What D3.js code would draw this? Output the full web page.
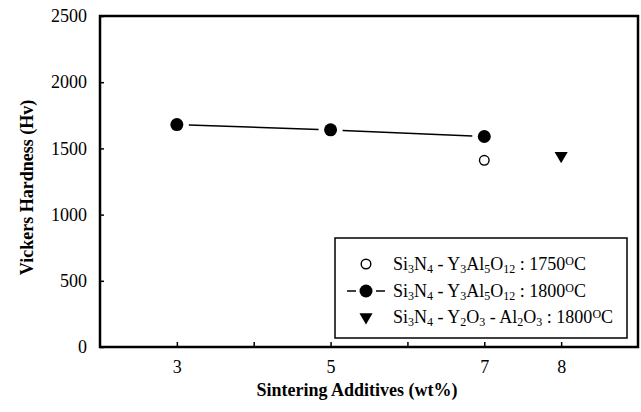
<!DOCTYPE html>
<html>
<head>
<meta charset="utf-8">
<script src="https://cdn.jsdelivr.net/npm/d3@7"></script>
<style>
  html, body { margin: 0; padding: 0; background: #fff; }
  svg { display: block; }
</style>
</head>
<body>
<svg id="chart" width="641" height="412"></svg>
<script>
// Vickers hardness against sintering additive content
const additiveTicks = [3, 4, 5, 6, 7, 8];
const additiveLabels = [3, 5, 7, 8];
const hardnessTicks = [0, 500, 1000, 1500, 2000, 2500];

// Si3N4 - Y3Al5O12 sintered at 1800 °C
const yagX1800 = [3, 5, 7];
const yagHv1800 = [1680, 1640, 1590];
// Si3N4 - Y3Al5O12 sintered at 1750 °C
const yagX1750 = [7];
const yagHv1750 = [1410];
// Si3N4 - Y2O3 - Al2O3 sintered at 1800 °C
const oxX1800 = [8];
const oxHv1800 = [1445];

const FONT = '"Liberation Serif", "Times New Roman", serif';
const svg = d3.select("#chart").style("font-family", FONT);
const plotL = 100, plotR = 638, plotT = 16, plotB = 347;

const x = d3.scaleLinear().domain([2, 9]).range([plotL, plotR]);
const y = d3.scaleLinear().domain([0, 2500]).range([plotB, plotT]);

// bottom axis: inward ticks, labels only on some positions
const xAxis = d3.axisBottom(x)
  .tickValues(additiveTicks)
  .tickSizeInner(-5).tickSizeOuter(0)
  .tickFormat(d => additiveLabels.includes(d) ? d : "");
const gx = svg.append("g").attr("transform", `translate(0,${plotB})`).call(xAxis)
  .attr("font-family", FONT).attr("font-size", 18);
gx.select(".domain").remove();
gx.selectAll(".tick line").attr("stroke", "#000").attr("stroke-width", 1.5);
gx.selectAll(".tick text").attr("y", 13).attr("dy", "0.71em").attr("fill", "#000");

// left axis
const yAxis = d3.axisLeft(y)
  .tickValues(hardnessTicks)
  .tickSizeInner(-4).tickSizeOuter(0)
  .tickFormat(d3.format("d"));
const gy = svg.append("g").attr("transform", `translate(${plotL},0)`).call(yAxis)
  .attr("font-family", FONT).attr("font-size", 18);
gy.select(".domain").remove();
gy.selectAll(".tick line").attr("stroke", "#000").attr("stroke-width", 1.5);
gy.selectAll(".tick text").attr("x", -13).attr("fill", "#000");

// plot frame
svg.append("rect")
  .attr("x", plotL).attr("y", plotT)
  .attr("width", plotR - plotL).attr("height", plotB - plotT)
  .attr("fill", "none").attr("stroke", "#000").attr("stroke-width", 2.5);

// axis titles
svg.append("text")
  .attr("transform", `translate(33,${(plotT + plotB) / 2 + 6}) rotate(-90)`)
  .attr("text-anchor", "middle")
  .attr("font-family", FONT).attr("font-size", 18).attr("font-weight", "bold")
  .text("Vickers Hardness (Hv)");
svg.append("text")
  .attr("x", 357).attr("y", 396)
  .attr("text-anchor", "middle")
  .attr("font-family", FONT).attr("font-size", 18).attr("font-weight", "bold")
  .text("Sintering Additives (wt%)");

// connecting line with gaps around the markers
const pts1800 = yagX1800.map((d, i) => [x(d), y(yagHv1800[i])]);
const gap = 12;
const segs = d3.pairs(pts1800).map(([a, b]) => {
  const dx = b[0] - a[0], dy = b[1] - a[1], len = Math.hypot(dx, dy);
  const ux = dx / len, uy = dy / len;
  return [[a[0] + ux * gap, a[1] + uy * gap], [b[0] - ux * gap, b[1] - uy * gap]];
});
svg.append("g").selectAll("line").data(segs).join("line")
  .attr("x1", d => d[0][0]).attr("y1", d => d[0][1])
  .attr("x2", d => d[1][0]).attr("y2", d => d[1][1])
  .attr("stroke", "#000").attr("stroke-width", 1.5);

// markers
svg.append("g").selectAll("circle").data(yagX1800).join("circle")
  .attr("cx", d => x(d)).attr("cy", (d, i) => y(yagHv1800[i]))
  .attr("r", 6.5).attr("fill", "#000");
svg.append("g").selectAll("circle").data(yagX1750).join("circle")
  .attr("cx", d => x(d)).attr("cy", (d, i) => y(yagHv1750[i]))
  .attr("r", 4.8).attr("fill", "#fff").attr("stroke", "#000").attr("stroke-width", 1.4);
const tri = d3.symbol().type(d3.symbolTriangle).size(75);
svg.append("g").selectAll("path").data(oxX1800).join("path")
  .attr("d", tri)
  .attr("transform", (d, i) => `translate(${x(d)},${y(oxHv1800[i])}) rotate(180)`)
  .attr("fill", "#000");

// legend
const lg = svg.append("g");
lg.append("rect").attr("x", 335).attr("y", 238).attr("width", 292).attr("height", 100)
  .attr("fill", "#fff").attr("stroke", "#000").attr("stroke-width", 1.5);

const legendRows = [
  { sym: "open", parts: [["Si"], ["3", "sub"], ["N"], ["4", "sub"], [" - Y"], ["3", "sub"], ["Al"], ["5", "sub"], ["O"], ["12", "sub"], [" : 1750"], ["O", "sup"], ["C"]] },
  { sym: "filled", parts: [["Si"], ["3", "sub"], ["N"], ["4", "sub"], [" - Y"], ["3", "sub"], ["Al"], ["5", "sub"], ["O"], ["12", "sub"], [" : 1800"], ["O", "sup"], ["C"]] },
  { sym: "tri", parts: [["Si"], ["3", "sub"], ["N"], ["4", "sub"], [" - Y"], ["2", "sub"], ["O"], ["3", "sub"], [" - Al"], ["2", "sub"], ["O"], ["3", "sub"], [" : 1800"], ["O", "sup"], ["C"]] }
];
const rowY = [264, 291, 317];
const symX = 366, textX = 393;

legendRows.forEach((row, i) => {
  const cy = rowY[i];
  if (row.sym === "open") {
    lg.append("circle").attr("cx", symX).attr("cy", cy).attr("r", 4.8)
      .attr("fill", "#fff").attr("stroke", "#000").attr("stroke-width", 1.4);
  } else if (row.sym === "filled") {
    lg.append("line").attr("x1", symX - 19).attr("x2", symX - 10).attr("y1", cy).attr("y2", cy)
      .attr("stroke", "#000").attr("stroke-width", 1.5);
    lg.append("line").attr("x1", symX + 10).attr("x2", symX + 19).attr("y1", cy).attr("y2", cy)
      .attr("stroke", "#000").attr("stroke-width", 1.5);
    lg.append("circle").attr("cx", symX).attr("cy", cy).attr("r", 6.5).attr("fill", "#000");
  } else {
    lg.append("path").attr("d", tri)
      .attr("transform", `translate(${symX},${cy}) rotate(180)`).attr("fill", "#000");
  }
  const t = lg.append("text").attr("x", textX).attr("y", cy + 6)
    .attr("font-family", FONT).attr("font-size", 18).attr("fill", "#000");
  row.parts.forEach(([s, kind]) => {
    const ts = t.append("tspan").text(s);
    if (kind === "sub") ts.attr("baseline-shift", "-25%").attr("font-size", 12);
    if (kind === "sup") ts.attr("baseline-shift", "38%").attr("font-size", 12);
  });
});
</script>
</body>
</html>
